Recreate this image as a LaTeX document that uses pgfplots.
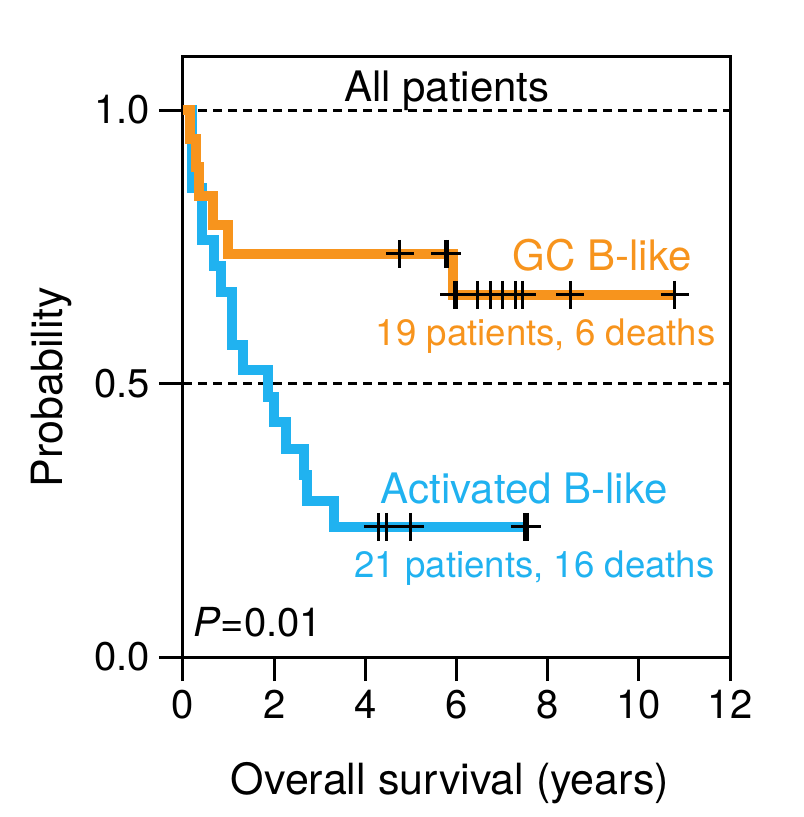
\documentclass[border=0pt]{standalone}
\usepackage{pgfplots}
\pgfplotsset{compat=1.18}
\usepackage{fontspec}
\setmainfont{TeX Gyre Heros}
\definecolor{gcorange}{RGB}{247,148,29}
\definecolor{abcblue}{RGB}{32,178,240}
\begin{document}
\begin{tikzpicture}
\begin{axis}[
  at={(0,0)}, anchor=south west,
  scale only axis,
  width=273.5pt, height=300pt,
  xmin=0, xmax=12, ymin=0, ymax=1.097,
  clip=false,
  axis line style={line width=1.5pt},
  every tick/.style={black, line width=1.5pt},
  major tick length=12pt,
  tick align=outside,
  xtick pos=bottom, ytick pos=left,
  xtick={0,2,4,6,8,10,12},
  ytick={0,0.5,1},
  /pgf/number format/assume math mode=true,
  yticklabel style={/pgf/number format/fixed, /pgf/number format/fixed zerofill, /pgf/number format/precision=1, xshift=-1pt},
  ticklabel style={font=\fontsize{20}{24}\selectfont},
  xticklabel style={yshift=-1pt},
]
% reference dashed lines
\addplot[black, line width=1.5pt, dash pattern=on 4.5pt off 3pt] coordinates {(0,1) (12,1)};
\addplot[black, line width=1.5pt, dash pattern=on 4.5pt off 3pt] coordinates {(0,0.5) (12,0.5)};
% Activated B-like
\addplot[const plot, abcblue, line width=5pt] coordinates {
 (0,1) (0.2,0.857) (0.42,0.762) (0.67,0.714) (0.83,0.667) (1.07,0.571)
 (1.32,0.524) (1.86,0.476) (2.0,0.429) (2.26,0.381) (2.65,0.333)
 (2.72,0.286) (3.31,0.238) (7.55,0.238)};
% GC B-like
\addplot[const plot, gcorange, line width=5pt] coordinates {
 (0,1) (0.15,0.947) (0.29,0.895) (0.35,0.842) (0.66,0.789) (0.99,0.737)
 (5.93,0.662) (10.79,0.662)};
% censor marks
\addplot[only marks, mark=+, mark size=7pt, black, mark options={line width=1.5pt}] coordinates {
 (4.28,0.238) (4.47,0.238) (4.98,0.238) (7.5,0.238) (7.55,0.238)};
\addplot[only marks, mark=+, mark size=7pt, black, mark options={line width=1.5pt}] coordinates {
 (4.76,0.737) (5.75,0.737) (5.8,0.737)
 (5.95,0.662) (6.0,0.662) (6.45,0.662) (6.74,0.662) (7.0,0.662) (7.3,0.662)
 (7.44,0.662) (8.49,0.662) (10.79,0.662)};
% texts
\node[anchor=base, inner sep=0pt, font=\fontsize{21}{25}\selectfont] at (axis cs:5.79,1.015) {All patients};
\node[anchor=base east, inner sep=0pt, text=gcorange, font=\fontsize{21}{25}\selectfont] at (axis cs:11.17,0.707) {GC B-like};
\node[anchor=base east, inner sep=0pt, text=gcorange, font=\fontsize{18.3}{22}\selectfont] at (axis cs:11.69,0.570) {19 patients, 6 deaths};
\node[anchor=base east, inner sep=0pt, text=abcblue, font=\fontsize{21}{25}\selectfont] at (axis cs:10.64,0.2815) {Activated B-like};
\node[anchor=base east, inner sep=0pt, text=abcblue, font=\fontsize{18.3}{22}\selectfont] at (axis cs:11.67,0.146) {21 patients, 16 deaths};
\node[anchor=base west, inner sep=0pt, font=\fontsize{20}{24}\selectfont] at (axis cs:0.22,0.0366) {\textit{P}=0.01};
% axis labels
\node[anchor=base, inner sep=0pt, font=\fontsize{21.5}{26}\selectfont] at (axis cs:5.857,-0.2523) {Overall survival (years)};
\node[anchor=base, rotate=90, inner sep=0pt, font=\fontsize{21.5}{26}\selectfont] at (axis cs:-2.633,0.4936) {Probability};
\end{axis}
\path (-91.5pt,-80pt) rectangle (310pt,328.5pt);
\end{tikzpicture}
\end{document}
